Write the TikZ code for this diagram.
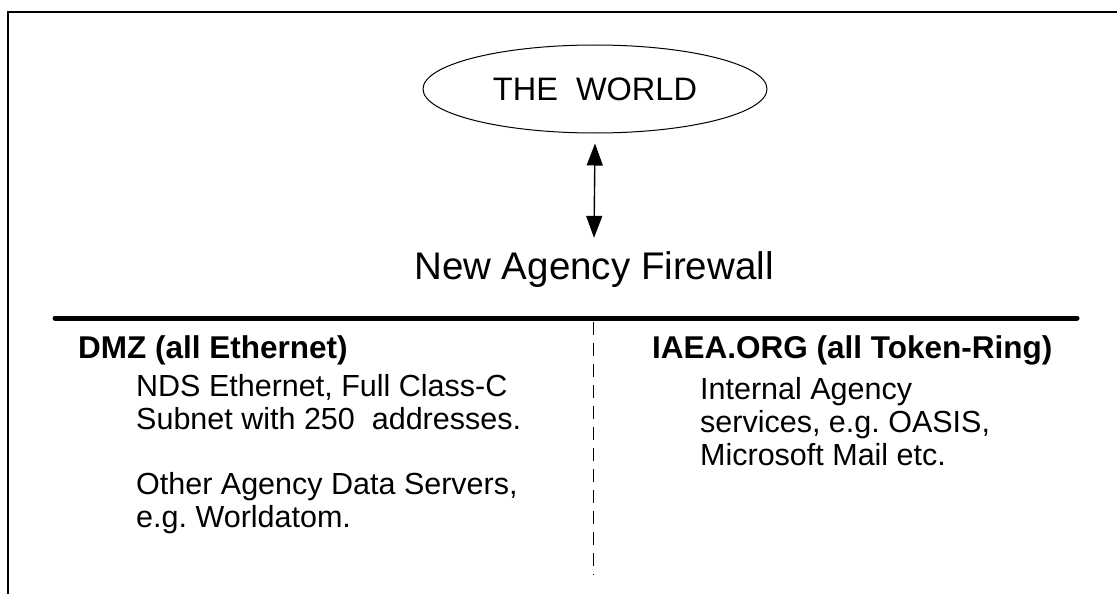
\documentclass[tikz,border=0pt]{standalone}
\usepackage{fontspec}
\setmainfont{Liberation Sans}
\usetikzlibrary{shapes.geometric,arrows.meta}
\frenchspacing
\begin{document}
\begin{tikzpicture}[x=1pt,y=-1pt,
  body/.style={anchor=base west,inner sep=0pt,font=\fontsize{30.5}{33}\selectfont,align=left},
  head/.style={anchor=base west,inner sep=0pt,font=\fontsize{31.5}{36}\selectfont\bfseries},
  dbl/.style={{Triangle[width=16pt,length=22pt]}-{Triangle[width=16pt,length=22pt]},line width=1.4pt}]
\useasboundingbox (0,0) rectangle (1117,594);
\draw[line width=1.5pt] (7,12) -- (1117,12);
\draw[line width=1.5pt] (8,12) -- (8,594);
\node[ellipse,draw,line width=1pt,minimum width=344pt,minimum height=88pt,inner sep=0pt,
      font=\fontsize{32.5}{38}\selectfont] (world) at (595,89) {THE\ \ WORLD};
\node[inner sep=0pt,font=\fontsize{38.5}{44}\selectfont] (fw) at (594,270) {New Agency Firewall};
\draw[dbl] ([yshift=-10pt]world.south) -- ([yshift=14pt]fw.north);
\coordinate (la) at (55,318);
\coordinate (lb) at (1077,318);
\draw[line width=5pt,line cap=round] (la) -- (lb);
\coordinate (da) at (593,322);
\coordinate (db) at (593,575);
\draw[line width=1pt,dash pattern=on 13pt off 8pt] (da) -- (db);
\node[head] (dmz) at (78,358) {DMZ (all Ethernet)};
\node[head] (iaea) at (652,358) {IAEA.ORG (all Token-Ring)};
\node[body] (nds) at (136,429) {NDS Ethernet, Full Class-C\\Subnet with 250\ \ addresses.};
\node[body] (oth) at (136,527) {Other Agency Data Servers,\\e.g. Worldatom.};
\node[body] (int) at (700,465) {Internal Agency\\services, e.g. OASIS,\\Microsoft Mail etc.};
\end{tikzpicture}
\end{document}
